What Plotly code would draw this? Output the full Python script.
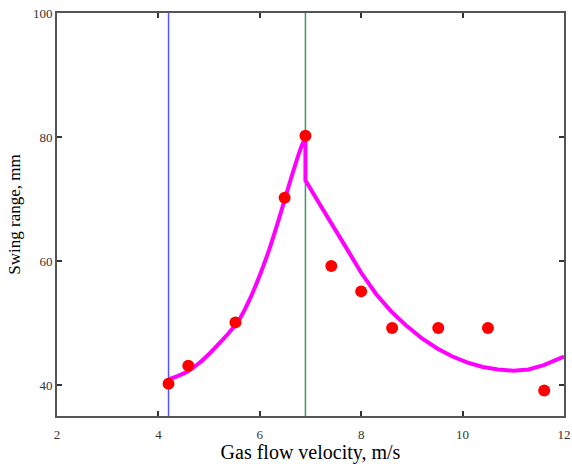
import plotly.graph_objects as go

# Measured data (red dots)
x_meas = [4.2, 4.59, 5.52, 6.49, 6.9, 7.41, 8.0, 8.61, 9.52, 10.5, 11.61]
y_meas = [40.2, 43.1, 50.1, 70.2, 80.2, 59.2, 55.1, 49.2, 49.2, 49.2, 39.1]

# Model curve (magenta): rising branch, then falling branch
x_curve_up = [4.2, 4.4, 4.6, 4.8, 5.0, 5.2, 5.4, 5.6, 5.8, 6.0, 6.2, 6.4, 6.6, 6.8, 6.9]
y_curve_up = [40.9, 41.5, 42.3, 43.5, 45.0, 46.7, 48.5, 50.6, 53.8, 57.7, 62.2, 67.4, 72.9, 78.0, 80.0]
x_curve_down = [6.9, 6.9, 7.2, 7.4, 7.7, 8.0, 8.3, 8.6, 8.9, 9.2, 9.5, 9.8, 10.1, 10.4, 10.7,
                11.0, 11.3, 11.6, 11.9, 12.0]
y_curve_down = [80.0, 73.0, 68.9, 66.3, 62.2, 58.1, 54.6, 51.8, 49.5, 47.5, 45.9, 44.6, 43.6, 42.9, 42.5,
                42.3, 42.5, 43.2, 44.2, 44.6]

# Vertical boundary lines
x_blue = [4.2, 4.2]
x_green = [6.9, 6.9]
y_span = [35, 100]

x_ticks = [2, 4, 6, 8, 10, 12]
y_ticks = [40, 60, 80, 100]

fig = go.Figure()
fig.add_trace(go.Scatter(x=x_blue, y=y_span, mode="lines",
                         line=dict(color="#5555ff", width=1.5), showlegend=False))
fig.add_trace(go.Scatter(x=x_green, y=y_span, mode="lines",
                         line=dict(color="#3c9a5f", width=1.5), showlegend=False))
fig.add_trace(go.Scatter(x=x_curve_up, y=y_curve_up, mode="lines",
                         line=dict(color="#ff00ff", width=4, shape="spline", smoothing=0.8),
                         showlegend=False))
fig.add_trace(go.Scatter(x=x_curve_down, y=y_curve_down, mode="lines",
                         line=dict(color="#ff00ff", width=4), showlegend=False))
fig.add_trace(go.Scatter(x=x_meas, y=y_meas, mode="markers",
                         marker=dict(color="#ff0000", size=12), showlegend=False))

axis_common = dict(
    showline=True, linecolor="#555555", linewidth=2, mirror="ticks",
    ticks="inside", ticklen=5, tickwidth=1.5, tickcolor="#333333",
    showgrid=False, zeroline=False,
    tickfont=dict(family="Liberation Serif", size=13, color="#333333"),
)

fig.update_layout(
    width=572, height=464,
    margin=dict(l=57, r=8, t=13, b=48, autoexpand=False),
    plot_bgcolor="white", paper_bgcolor="white",
    xaxis=dict(range=[2, 12], tickvals=x_ticks, ticklabelstandoff=5,
               title=dict(text="Gas flow velocity, m/s", standoff=6,
                          font=dict(family="Liberation Serif", size=20, color="black")),
               **axis_common),
    yaxis=dict(range=[35, 100], tickvals=y_ticks,
               title=dict(text="Swing range, mm", standoff=8,
                          font=dict(family="Liberation Serif", size=17, color="black")),
               **axis_common),
)

fig.write_html("out.html")
